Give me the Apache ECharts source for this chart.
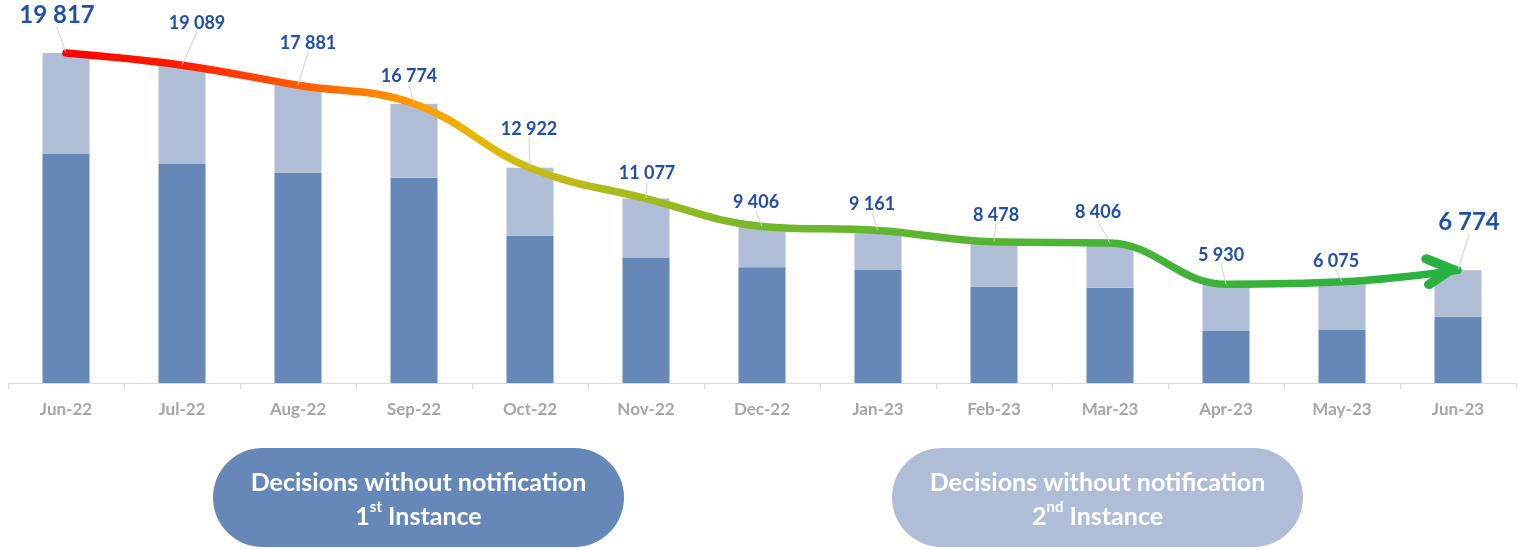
<!DOCTYPE html>
<html>
<head>
<meta charset="utf-8">
<script src="https://cdn.jsdelivr.net/npm/echarts@6/dist/echarts.min.js"></script>
<style>
  html, body { margin: 0; padding: 0; background: #fff; }
  #chart { width: 1518px; height: 549px; }
</style>
</head>
<body>
<div id="chart"></div>
<script>
// data
const months = ['Jun-22', 'Jul-22', 'Aug-22', 'Sep-22', 'Oct-22', 'Nov-22', 'Dec-22',
  'Jan-23', 'Feb-23', 'Mar-23', 'Apr-23', 'May-23', 'Jun-23']
const firstInstance = [13750, 13150, 12650, 12330, 8850, 7510, 6950, 6790, 5780, 5720, 3120, 3180, 3980]
const secondInstance = [6067, 5939, 5231, 4444, 4072, 3567, 2456, 2371, 2698, 2686, 2810, 2895, 2794]
const totals = [19817, 19089, 17881, 16774, 12922, 11077, 9406, 9161, 8478, 8406, 5930, 6075, 6774]

// where each total label sits relative to its point
const labelNudge = [[-9, -38], [15, -42], [10, -42], [-5, -28], [-1, -39], [1, -25], [-6, -24],
  [-6, -26], [2, -27], [-12, -31], [-5, -29], [-6, -21], [11, -48]]

const FONT = 'Lato'
const last = totals.length - 1

const chart = echarts.init(document.getElementById('chart'))

// open chevron arrow head with rounded ends
const ARROW = 'path://M4,1 Q7,-1 10,1 L33,13 Q36,15 33,17 L10,29 Q7,31 4,29 Q1,26 4,23 L19,15 L4,7 Q1,4 4,1 Z'

const trendLine = totals.map((v, i) => {
  if (i !== last) return v
  return {
    value: v,
    symbol: ARROW,
    symbolSize: [37, 35],
    symbolOffset: [-17, 0],
    symbolRotate: 6,
    itemStyle: { color: '#27B141' }
  }
})

const labelPoints = totals.map((v, i) => ({
  value: v,
  label: { fontSize: (i === 0 || i === last) ? 24 : 18 }
}))

function pill(x, color, n, sup) {
  return {
    type: 'group',
    children: [
      {
        type: 'rect',
        shape: { x: x, y: 448, width: 411, height: 99, r: 49.5 },
        style: { fill: color }
      },
      {
        type: 'text',
        x: x + 205.5,
        y: 500,
        style: {
          text: '{m|Decisions without notification}\n{m|' + n + '}{s|' + sup + '}{m| Instance}',
          align: 'center',
          verticalAlign: 'middle',
          rich: {
            m: { fill: '#fff', fontFamily: FONT, fontWeight: 'bold', fontSize: 25, lineHeight: 34 },
            s: { fill: '#fff', fontFamily: FONT, fontWeight: 'bold', fontSize: 15, lineHeight: 22, verticalAlign: 'top' }
          }
        }
      }
    ]
  }
}

chart.setOption({
  animation: false,
  grid: { left: 8, right: 2, top: 50, bottom: 166 },
  xAxis: {
    type: 'category',
    data: months,
    axisLine: { lineStyle: { color: '#D9D9D9', width: 1 } },
    axisTick: { show: true, length: 6, lineStyle: { color: '#D9D9D9' } },
    axisLabel: {
      color: '#A6A6A6',
      fontFamily: FONT,
      fontWeight: 'bold',
      fontSize: 17,
      margin: 18
    }
  },
  yAxis: {
    type: 'value',
    min: 0,
    max: 20000,
    show: false
  },
  series: [
    {
      name: '1st Instance',
      type: 'bar',
      stack: 'total',
      barWidth: 47,
      silent: true,
      itemStyle: { color: '#6588B8' },
      data: firstInstance
    },
    {
      name: '2nd Instance',
      type: 'bar',
      stack: 'total',
      barWidth: 47,
      silent: true,
      itemStyle: { color: '#B0BDD6' },
      data: secondInstance
    },
    {
      name: 'trend',
      type: 'line',
      smooth: 0.4,
      silent: true,
      symbol: 'none',
      showSymbol: true,
      lineStyle: {
        width: 7.5,
        cap: 'round',
        color: {
          type: 'linear',
          x: 0, y: 0, x2: 1, y2: 0,
          colorStops: [
            { offset: 0, color: '#FF0000' },
            { offset: 0.083, color: '#FF1E00' },
            { offset: 0.167, color: '#FF5A00' },
            { offset: 0.25, color: '#FF9A00' },
            { offset: 0.297, color: '#E8B800' },
            { offset: 0.334, color: '#C8BC14' },
            { offset: 0.417, color: '#A0BA1E' },
            { offset: 0.5, color: '#74B82A' },
            { offset: 0.584, color: '#62B62E' },
            { offset: 0.75, color: '#46B436' },
            { offset: 1, color: '#27B141' }
          ]
        }
      },
      z: 5,
      data: trendLine
    },
    {
      name: 'totals',
      type: 'line',
      silent: true,
      symbol: 'circle',
      symbolSize: 1,
      lineStyle: { opacity: 0 },
      itemStyle: { color: 'rgba(0,0,0,0)' },
      label: {
        show: true,
        position: 'inside',
        color: '#1F4FA6',
        fontFamily: FONT,
        fontWeight: 'bold',
        fontSize: 18,
        formatter: (p) => String(p.value).replace(/\B(?=(\d{3})+(?!\d))/g, ' ')
      },
      labelLine: {
        show: true,
        lineStyle: { color: '#D0D0D0', width: 1 }
      },
      labelLayout: (p) => ({ dx: labelNudge[p.dataIndex][0], dy: labelNudge[p.dataIndex][1] }),
      z: 6,
      data: labelPoints
    }
  ],
  graphic: [
    pill(213, '#6588B8', '1', 'st'),
    pill(892, '#B0BDD6', '2', 'nd')
  ]
})
</script>
</body>
</html>
